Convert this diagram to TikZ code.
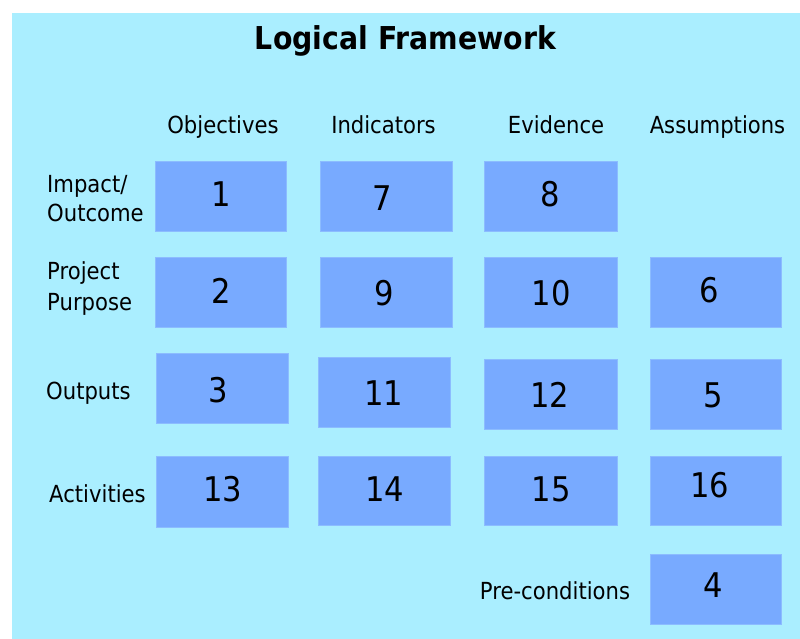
\documentclass[tikz,border=0pt]{standalone}
\usepackage{fontspec}
\setmainfont{DejaVu Sans}[FakeStretch=0.9]
\definecolor{bgcyan}{RGB}{170,238,255}
\definecolor{boxfill}{RGB}{120,170,255}
\definecolor{boxedge}{RGB}{140,188,255}
\begin{document}
\begin{tikzpicture}[x=1pt,y=-1pt,
  box/.style={draw=boxedge,line width=0.8pt,fill=boxfill,minimum width=131pt,minimum height=70pt,inner sep=0pt,outer sep=0pt},
  num/.style={font=\fontsize{34}{34}\selectfont,inner sep=0pt},
  lbl/.style={font=\fontsize{23.5}{28}\selectfont,inner sep=0pt},
  ttl/.style={font=\bfseries\fontsize{31.5}{36}\selectfont,inner sep=0pt}]
\useasboundingbox (0,0) rectangle (800,639);
\fill[bgcyan] (12,13) rectangle (800,639);

% title
\node[ttl,anchor=base] (title) at (405.5,50) {Logical Framework};

% column headers
\node[lbl,anchor=base] (hobj) at (223,134) {Objectives};
\node[lbl,anchor=base] (hind) at (383.5,134) {Indicators};
\node[lbl,anchor=base] (hevi) at (556,134) {Evidence};
\node[lbl,anchor=base] (hass) at (717.5,134) {Assumptions};

% row labels
\node[lbl,anchor=base west] (rimp) at (47,193) {Impact/};
\node[lbl,anchor=base west] (rout) at (47,222) {Outcome};
\node[lbl,anchor=base west] (rpro) at (47,279) {Project};
\node[lbl,anchor=base west] (rpur) at (47,310) {Purpose};
\node[lbl,anchor=base west] (rput) at (46,399) {Outputs};
\node[lbl,anchor=base west] (ract) at (49,502) {Activities};
\node[lbl,anchor=base] (rpre) at (555,599) {Pre-conditions};

% boxes
\node[box] (b1) at (221,196) {};
\node[box,minimum width=132pt] (b7) at (386,196) {};
\node[box,minimum width=133pt] (b8) at (550.5,196) {};
\node[box] (b2) at (221,292) {};
\node[box,minimum width=132pt] (b9) at (386,292) {};
\node[box,minimum width=133pt] (b10) at (550.5,292) {};
\node[box] (b6) at (715.5,292) {};
\node[box,minimum width=132pt] (b3) at (222,388) {};
\node[box,minimum width=132pt] (b11) at (384,392) {};
\node[box,minimum width=133pt] (b12) at (550.5,394) {};
\node[box] (b5) at (715.5,394) {};
\node[box,minimum width=132pt,minimum height=71pt] (b13) at (222,491.5) {};
\node[box,minimum width=132pt,minimum height=69pt] (b14) at (384,490.5) {};
\node[box,minimum width=133pt,minimum height=69pt] (b15) at (550.5,490.5) {};
\node[box,minimum height=69pt] (b16) at (715.5,490.5) {};
\node[box] (b4) at (715.5,589) {};

% numbers
\node[num] (n1) at (221,194.5) {1};
\node[num] (n7) at (382,198) {7};
\node[num] (n8) at (550.5,194.5) {8};
\node[num] (n2) at (221.5,291) {2};
\node[num] (n9) at (384,293) {9};
\node[num] (n10) at (551,293) {10};
\node[num] (n6) at (709,290) {6};
\node[num] (n3) at (218,390) {3};
\node[num] (n11) at (384,393) {11};
\node[num] (n12) at (549.5,395) {12};
\node[num] (n5) at (713,395) {5};
\node[num] (n13) at (222.5,489) {13};
\node[num] (n14) at (385,489) {14};
\node[num] (n15) at (551,489) {15};
\node[num] (n16) at (709.5,485) {16};
\node[num] (n4) at (713,585) {4};
\end{tikzpicture}
\end{document}
